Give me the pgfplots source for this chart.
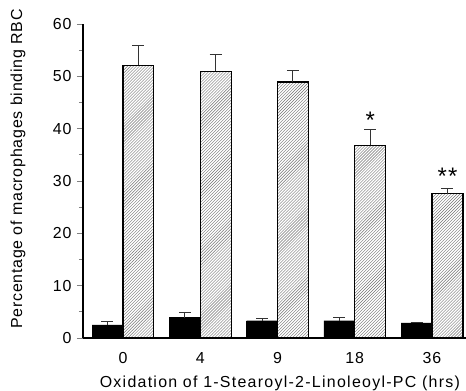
\documentclass[border=0pt]{standalone}
\usepackage{fontspec}
\setmainfont{Liberation Sans}[LetterSpace=5]
\newfontfamily\xlabfont{Liberation Sans}[LetterSpace=8]
\usepackage{pgfplots}
\pgfplotsset{compat=1.18}
\usetikzlibrary{patterns}
\begin{document}
\fontsize{16}{19}\selectfont
\begin{tikzpicture}
\begin{axis}[
  scale only axis, width=383bp, height=314bp,
  xmin=-0.517, xmax=4.44, ymin=0, ymax=60,
  axis x line*=bottom, axis y line*=left,
  axis line style={line width=1.2pt},
  xtick={0,1,2,3,4}, xticklabels={0,4,9,18,36},
  xtick style={draw=none},
  ytick={0,10,...,60}, minor y tick num=1,
  tick align=outside,
  major tick length=6bp, minor tick length=4bp,
  ytick style={line width=1pt},
  /pgf/number format/assume math mode=true,
  tick label style={font=\fontsize{16}{19}\selectfont},
  xticklabel style={yshift=-3bp},
  label style={font=\fontsize{16}{19}\selectfont},
  ylabel={Percentage of macrophages binding RBC},
  xlabel={\xlabfont Oxidation of 1-Stearoyl-2-Linoleoyl-PC (hrs)},
  ylabel style={at={(axis description cs:-0.17,0.538)}, anchor=center},
  xlabel style={at={(axis description cs:0.514,-0.143)}, anchor=center},
  ybar, bar width=0.4,
  error bars/y dir=plus, error bars/y explicit,
  error bars/error bar style={line width=1pt, black!80},
  error bars/error mark options={rotate=90, line width=1pt, mark size=6bp, black!80},
]
\addplot[bar shift=-0.2, fill=black, draw=black] coordinates {
  (0,2.5) +- (0,0.6)
  (1,3.9) +- (0,1.0)
  (2,3.3) +- (0,0.5)
  (3,3.3) +- (0,0.6)
  (4,2.9) +- (0,0.1)
};
\addplot[bar shift=0.2, draw=black, line width=1.2pt, fill=white,
  postaction={pattern=north east lines, pattern color=black!55}] coordinates {
  (0,52.1) +- (0,3.7)
  (1,51.0) +- (0,3.2)
  (2,48.9) +- (0,2.3)
  (3,36.8) +- (0,3.0)
  (4,27.6) +- (0,0.9)
};
\node[font=\fontsize{24}{24}\selectfont, anchor=south] at (axis cs:3.2,38.9) {*};
\node[font=\fontsize{24}{24}\selectfont, anchor=south] at (axis cs:4.2,28.2) {**};
\end{axis}
\pgfresetboundingbox
\path[use as bounding box] (-83bp,-53bp) rectangle (383bp,338bp);
\end{tikzpicture}
\end{document}
